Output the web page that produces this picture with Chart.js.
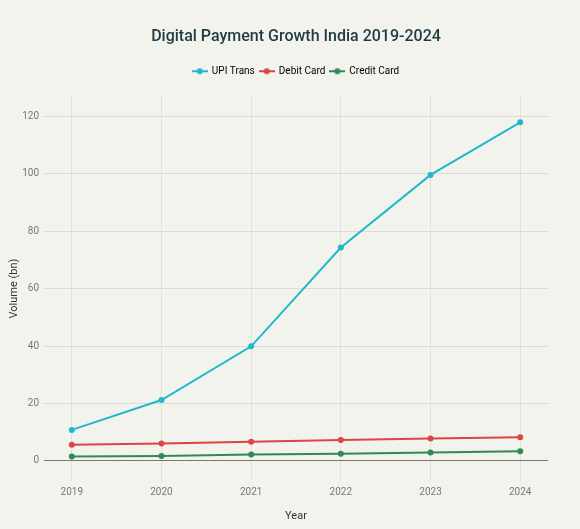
<!DOCTYPE html>
<html>
<head>
<meta charset="utf-8">
<script src="https://cdn.jsdelivr.net/npm/chart.js@4"></script>
<style>
  html, body { margin: 0; padding: 0; background: #f3f3ee; }
  #wrap { width: 580px; height: 529px; }
</style>
</head>
<body>
<div id="wrap"><canvas id="myChart" width="580" height="529"></canvas></div>
<script>
// datos
const years = [2019, 2020, 2021, 2022, 2023, 2024];
const upiTrans = [10.8, 21.2, 39.9, 74.3, 99.6, 117.9];
const debitCard = [5.6, 6.1, 6.7, 7.3, 7.8, 8.2];
const creditCard = [1.5, 1.7, 2.2, 2.5, 2.9, 3.4];
const yTicks = [0, 20, 40, 60, 80, 100, 120];

const FONT = 'Roboto, "Liberation Sans", sans-serif';
const colors = ['#1FB8CD', '#DB4545', '#2E8B57'];

// icono de leyenda: línea con punto
const legendIcon = (color) => {
  const c = document.createElement('canvas');
  c.width = 16; c.height = 8;
  const g = c.getContext('2d');
  g.strokeStyle = color; g.lineWidth = 2;
  g.beginPath(); g.moveTo(0, 4); g.lineTo(16, 4); g.stroke();
  g.fillStyle = color;
  g.beginPath(); g.arc(8, 4, 3, 0, Math.PI * 2); g.fill();
  return c;
};

const toPoints = (vals) => vals.map((v, i) => ({ x: years[i], y: v }));

const series = [
  { label: 'UPI Trans', data: upiTrans },
  { label: 'Debit Card', data: debitCard },
  { label: 'Credit Card', data: creditCard },
];

// espacio extra bajo la leyenda
const legendMargin = {
  id: 'legendMargin',
  beforeInit(chart) {
    const fit = chart.legend.fit;
    chart.legend.fit = function () {
      fit.call(this);
      this.height += 10;
    };
  },
};

const bgPlugin = {
  id: 'bg',
  beforeDraw(chart) {
    const ctx = chart.ctx;
    ctx.save();
    ctx.fillStyle = '#f3f3ee';
    ctx.fillRect(0, 0, chart.width, chart.height);
    ctx.restore();
  },
};

const ctx = document.getElementById('myChart').getContext('2d');
new Chart(ctx, {
  type: 'line',
  data: {
    datasets: series.map((s, i) => ({
      label: s.label,
      data: toPoints(s.data),
      borderColor: colors[i],
      backgroundColor: colors[i],
      borderWidth: 2,
      pointStyle: 'circle',
      pointRadius: 3,
      pointHoverRadius: 3,
      pointBorderWidth: 0,
      tension: 0,
    })),
  },
  options: {
    responsive: false,
    animation: false,
    layout: { padding: { left: 6, right: 32, top: 27, bottom: 6 } },
    plugins: {
      tooltip: { enabled: false },
      title: {
        display: true,
        fullSize: false,
        text: 'Digital Payment Growth India 2019-2024',
        color: '#1f3a40',
        font: { family: FONT, size: 16, weight: '500' },
        padding: { top: 0, bottom: 15 },
      },
      legend: {
        display: true,
        fullSize: false,
        labels: {
          color: '#333',
          font: { family: FONT, size: 10 },
          usePointStyle: true,
          pointStyleWidth: 14,
          generateLabels: (chart) =>
            chart.data.datasets.map((d, i) => ({
              text: d.label,
              pointStyle: legendIcon(colors[i]),
              fillStyle: colors[i],
              strokeStyle: colors[i],
              lineWidth: 0,
              datasetIndex: i,
              hidden: false,
            })),
          padding: 5,
        },
      },
    },
    scales: {
      x: {
        type: 'linear',
        min: 2018.69,
        max: 2024.31,
        afterBuildTicks: (scale) => { scale.ticks = years.map((v) => ({ value: v })); },
        afterFit: (scale) => { scale.height = 42; },
        border: { display: false },
        grid: { color: '#e2e2dc', drawTicks: false },
        ticks: {
          color: '#777',
          font: { family: FONT, size: 10 },
          padding: 5,
          callback: (v) => String(v),
        },
        title: {
          display: true,
          text: 'Year',
          color: '#333',
          font: { family: FONT, size: 11 },
          padding: { top: 4, bottom: 0 },
        },
      },
      y: {
        min: -7,
        max: 127,
        afterBuildTicks: (scale) => { scale.ticks = yTicks.map((v) => ({ value: v })); },
        afterFit: (scale) => { scale.width = 38; },
        border: { display: false },
        grid: {
          color: (c) => (c.tick && c.tick.value === 0 ? '#777' : '#dcdcd6'),
          lineWidth: 1,
          drawTicks: false,
        },
        ticks: {
          color: '#777',
          font: { family: FONT, size: 10 },
          padding: 5,
        },
        title: {
          display: true,
          text: 'Volume (bn)',
          color: '#333',
          font: { family: FONT, size: 11 },
          padding: { top: 2, bottom: 4 },
        },
      },
    },
  },
  plugins: [bgPlugin, legendMargin],
});
</script>
</body>
</html>
